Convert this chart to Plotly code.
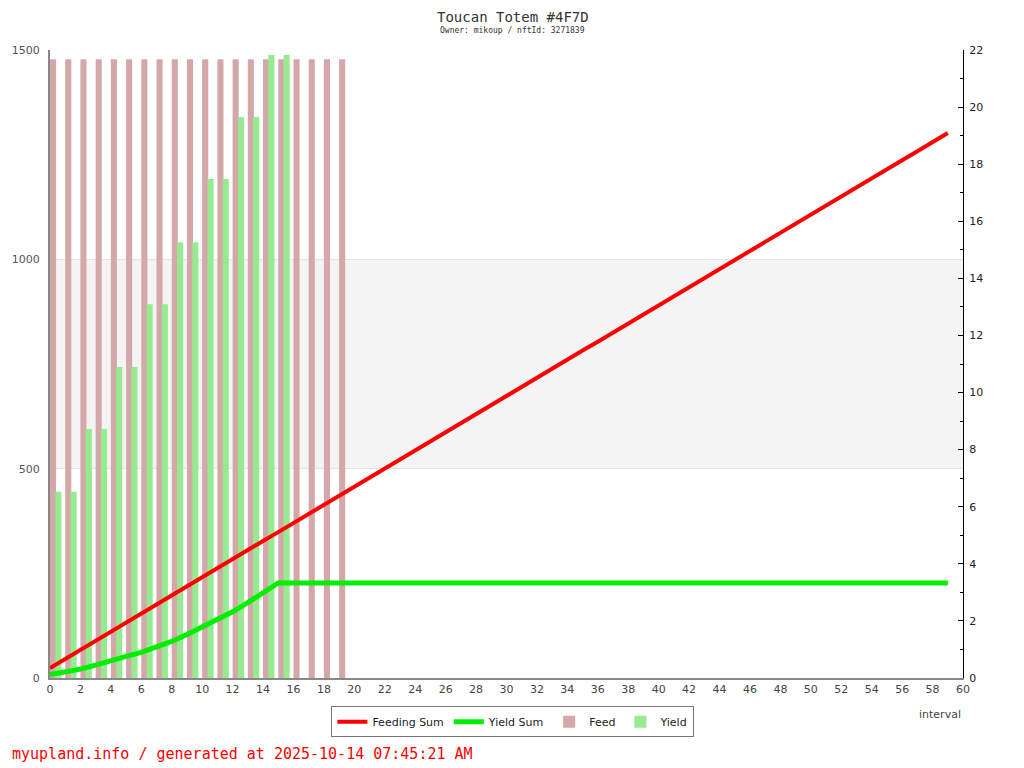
import plotly.graph_objects as go

intervals = list(range(60))
feed_x = list(range(20))
feed = [1478] * 20
yield_x = list(range(16))
yield_vals = [445, 445, 595, 595, 743, 743, 893, 893, 1041, 1041,
              1192, 1192, 1340, 1340, 1488, 1488]
feeding_sum = [0.35, 0.67, 0.99, 1.30, 1.62, 1.94, 2.26, 2.57, 2.89, 3.21,
               3.53, 3.84, 4.16, 4.48, 4.80, 5.11, 5.43, 5.75, 6.07, 6.38,
               6.70, 7.02, 7.34, 7.65, 7.97, 8.29, 8.61, 8.93, 9.24, 9.56,
               9.88, 10.20, 10.51, 10.83, 11.15, 11.47, 11.78, 12.10, 12.42, 12.74,
               13.05, 13.37, 13.69, 14.01, 14.32, 14.64, 14.96, 15.28, 15.59, 15.91,
               16.23, 16.55, 16.86, 17.18, 17.50, 17.82, 18.14, 18.45, 18.77, 19.09]
yield_sum = [0.12, 0.20, 0.31, 0.45, 0.62, 0.76, 0.90, 1.08, 1.28, 1.52,
             1.78, 2.04, 2.32, 2.64, 3.00, 3.33] + [3.33] * 44

title = "Toucan Totem #4F7D"
subtitle = "Owner: mikoup / nftId: 3271839"
footer = "myupland.info / generated at 2025-10-14 07:45:21 AM"

fig = go.Figure()
fig.add_trace(go.Bar(x=feed_x, y=feed, name="Feed", width=0.4, offset=0,
                     marker=dict(color="#d4a8a8", line=dict(width=0)),
                     legendrank=3))
fig.add_trace(go.Bar(x=yield_x, y=yield_vals, name="Yield", width=0.4, offset=0.35,
                     marker=dict(color="#96eb91", line=dict(width=0)),
                     legendrank=4))
fig.add_trace(go.Scatter(x=intervals, y=feeding_sum, name="Feeding Sum", mode="lines",
                         line=dict(color="#ff0000", width=4), yaxis="y2",
                         legendrank=1))
fig.add_trace(go.Scatter(x=intervals, y=yield_sum, name="Yield Sum", mode="lines",
                         line=dict(color="#00ee00", width=5), yaxis="y2",
                         legendrank=2))

fig.add_shape(type="rect", xref="paper", yref="y", x0=0, x1=1, y0=500, y1=1000,
              fillcolor="#f4f4f4", line=dict(width=0), layer="below")

fig.update_layout(
    width=1016, height=760,
    margin=dict(l=42, r=61, t=42, b=90, autoexpand=False),
    paper_bgcolor="white", plot_bgcolor="white",
    barmode="overlay",
    font=dict(family="DejaVu Sans", size=11, color="#444"),
    showlegend=True,
    legend=dict(orientation="h", x=0.507, xanchor="center", y=-0.045, yanchor="top",
                bordercolor="#777", borderwidth=1, font=dict(size=11, color="#222"),
                itemwidth=30, traceorder="normal"),
    xaxis=dict(range=[0, 60], dtick=2, tick0=0, showgrid=False, zeroline=False,
               showline=True, linecolor="#888", linewidth=2, ticks="", automargin=False,
               tickfont=dict(size=11, color="#444")),
    yaxis=dict(range=[0, 1500], dtick=500, tick0=0, showgrid=True, gridcolor="#e4e4e4",
               zeroline=False, showline=True, linecolor="#888", linewidth=2, ticks="",
               ticklabelstandoff=6, automargin=False,
               tickfont=dict(size=11, color="#555")),
    yaxis2=dict(range=[0, 22], overlaying="y", side="right", tickvals=list(range(0, 23, 2)),
                showgrid=False, zeroline=False, showline=True, linecolor="#000", linewidth=1,
                ticks="inside", ticklen=5, tickcolor="#000", ticklabelstandoff=3,
                automargin=False,
                minor=dict(dtick=1, ticks="inside", ticklen=3, tickcolor="#000"),
                tickfont=dict(size=11, color="#222")),
    annotations=[
        dict(text=title, xref="paper", yref="paper", x=0.507, y=1, yshift=33,
             xanchor="center", yanchor="middle", showarrow=False,
             font=dict(family="DejaVu Sans Mono", size=14, color="#333")),
        dict(text=subtitle, xref="paper", yref="paper", x=0.507, y=1, yshift=20,
             xanchor="center", yanchor="middle", showarrow=False,
             font=dict(family="DejaVu Sans Mono", size=8, color="#333")),
        dict(text="interval", xref="paper", yref="paper", x=1, y=0, yshift=-36,
             xanchor="right", yanchor="middle", showarrow=False,
             font=dict(size=11, color="#444")),
        dict(text=footer, xref="paper", yref="paper", x=0, xshift=-40, y=0, yshift=-76,
             xanchor="left", yanchor="middle", showarrow=False,
             font=dict(family="DejaVu Sans Mono", size=15, color="#ff0000")),
    ],
)

fig.write_html("out.html")
